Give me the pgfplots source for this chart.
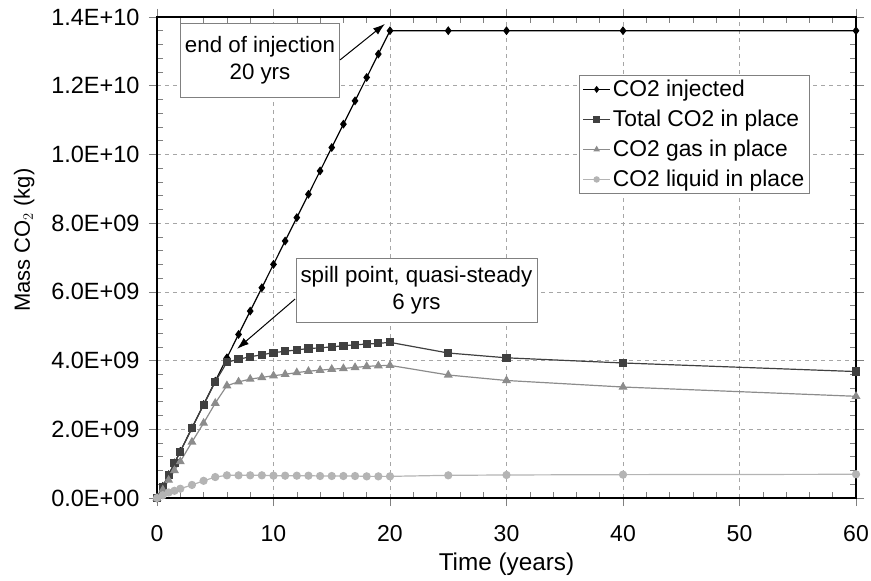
\documentclass[border=0pt]{standalone}
\usepackage{pgfplots}
\pgfplotsset{compat=1.18}
\usepackage{pgfplotstable}
\usepackage{fontspec}
\setmainfont{Liberation Sans}
\usetikzlibrary{arrows.meta}

\pgfplotstableread{
t    inj      tot     gas     liq
0    0        0       0       0
0.5  0.34e9   0.31e9  0.24e9  0.08e9
1    0.68e9   0.67e9  0.52e9  0.16e9
1.5  1.02e9   1.01e9  0.80e9  0.21e9
2    1.36e9   1.35e9  1.06e9  0.27e9
3    2.04e9   2.03e9  1.63e9  0.38e9
4    2.72e9   2.71e9  2.18e9  0.50e9
5    3.40e9   3.38e9  2.76e9  0.61e9
6    4.08e9   3.95e9  3.27e9  0.66e9
7    4.76e9   4.04e9  3.38e9  0.66e9
8    5.44e9   4.11e9  3.46e9  0.66e9
9    6.12e9   4.17e9  3.51e9  0.66e9
10   6.80e9   4.23e9  3.56e9  0.65e9
11   7.48e9   4.27e9  3.60e9  0.65e9
12   8.16e9   4.31e9  3.65e9  0.65e9
13   8.84e9   4.35e9  3.69e9  0.65e9
14   9.52e9   4.37e9  3.72e9  0.64e9
15   10.20e9  4.40e9  3.75e9  0.64e9
16   10.88e9  4.43e9  3.77e9  0.64e9
17   11.56e9  4.46e9  3.80e9  0.64e9
18   12.24e9  4.48e9  3.83e9  0.63e9
19   12.92e9  4.50e9  3.85e9  0.63e9
20   13.60e9  4.53e9  3.86e9  0.63e9
25   13.60e9  4.22e9  3.58e9  0.66e9
30   13.60e9  4.08e9  3.42e9  0.67e9
40   13.60e9  3.93e9  3.23e9  0.68e9
60   13.60e9  3.68e9  2.96e9  0.69e9
}\datatable

\definecolor{cTot}{HTML}{404040}
\definecolor{cGas}{HTML}{8C8C8C}
\definecolor{cLiq}{HTML}{B4B4B4}
\newcommand{\annfont}{\fontsize{22.3}{27}\selectfont}
\newcommand{\legfont}{\fontsize{22.8}{27}\selectfont}
\newcommand{\tickfont}{\fontsize{23.5}{28}\selectfont}

\begin{document}
\begin{tikzpicture}
\begin{axis}[
  scale only axis, width=699pt, height=481pt,
  clip=false,
  xmin=0, xmax=60, ymin=0, ymax=1.4e10,
  xtick={0,10,20,30,40,50,60},
  ytick={0,2e9,4e9,6e9,8e9,1e10,1.2e10,1.4e10},
  yticklabels={0.0E+00,2.0E+09,4.0E+09,6.0E+09,8.0E+09,1.0E+10,1.2E+10,1.4E+10},
  scaled y ticks=false,
  /pgf/number format/assume math mode=true,
  minor x tick num=4, minor y tick num=4,
  tick align=outside,
  major tick length=8pt, minor tick length=-6pt,
  tick style={gray, line width=0.6pt},
  grid=major,
  major grid style={dash pattern=on 4pt off 4pt, gray!70, line width=0.6pt},
  axis line style={black, line width=2.2pt},
  ticklabel style={font=\tickfont},
  xticklabel style={yshift=-16pt, font=\fontsize{23}{28}\selectfont},
  yticklabel style={xshift=-6pt},
  xlabel={Time (years)},
  label style={font=\fontsize{24.3}{28}\selectfont},
  xlabel style={at={(axis description cs:0.5,-0.137)}, anchor=center},
  legend style={at={(axis description cs:0.604,0.879)}, anchor=north west,
    draw=gray, fill=white, font=\legfont, row sep=8pt, inner sep=3pt},
  legend cell align=left,
  legend image code/.code={\draw[mark repeat=2,mark phase=2,#1,mark size=2.6pt] plot coordinates {(0cm,0cm)(0.48cm,0cm)(0.96cm,0cm)};},
]
\addplot[black, line width=1.2pt, mark=diamond*, mark size=3.5pt] table[x=t,y=inj] {\datatable};
\addlegendentry{CO2 injected}
\addplot[cTot, line width=1.2pt, mark=square*, mark size=3.5pt] table[x=t,y=tot] {\datatable};
\addlegendentry{Total CO2 in place}
\addplot[cGas, line width=1.2pt, mark=triangle*, mark size=4pt] table[x=t,y=gas] {\datatable};
\addlegendentry{CO2 gas in place}
\addplot[cLiq, line width=1.2pt, mark=*, mark size=3.5pt] table[x=t,y=liq] {\datatable};
\addlegendentry{CO2 liquid in place}

\node[draw=gray, fill=white, align=center, minimum width=159pt, minimum height=74pt, font=\annfont]
  at (axis cs:8.84,1.274e10) {end of injection\\20 yrs};
\draw[-{Latex[length=12pt,width=8pt]}, line width=1pt] (axis cs:15.71,1.275e10) -- (axis cs:19.57,1.38e10);
\node[draw=gray, fill=white, align=center, minimum width=241pt, minimum height=64pt, font=\annfont]
  at (axis cs:22.27,6.05e9) {spill point, quasi-steady\\6 yrs};
\draw[-{Latex[length=12pt,width=8pt]}, line width=1pt] (axis cs:11.85,5.79e9) -- (axis cs:6.87,4.34e9);

\node[rotate=90, anchor=center, font=\fontsize{22}{26}\selectfont] at (axis description cs:-0.19,0.536) {Mass CO$_2$ (kg)};

\coordinate (SW) at (rel axis cs:0,0);
\coordinate (NE) at (rel axis cs:1,1);
\end{axis}
\pgfresetboundingbox
\path ([shift={(-157pt,-82pt)}]SW) rectangle ([shift={(15pt,17pt)}]NE);
\end{tikzpicture}
\end{document}
